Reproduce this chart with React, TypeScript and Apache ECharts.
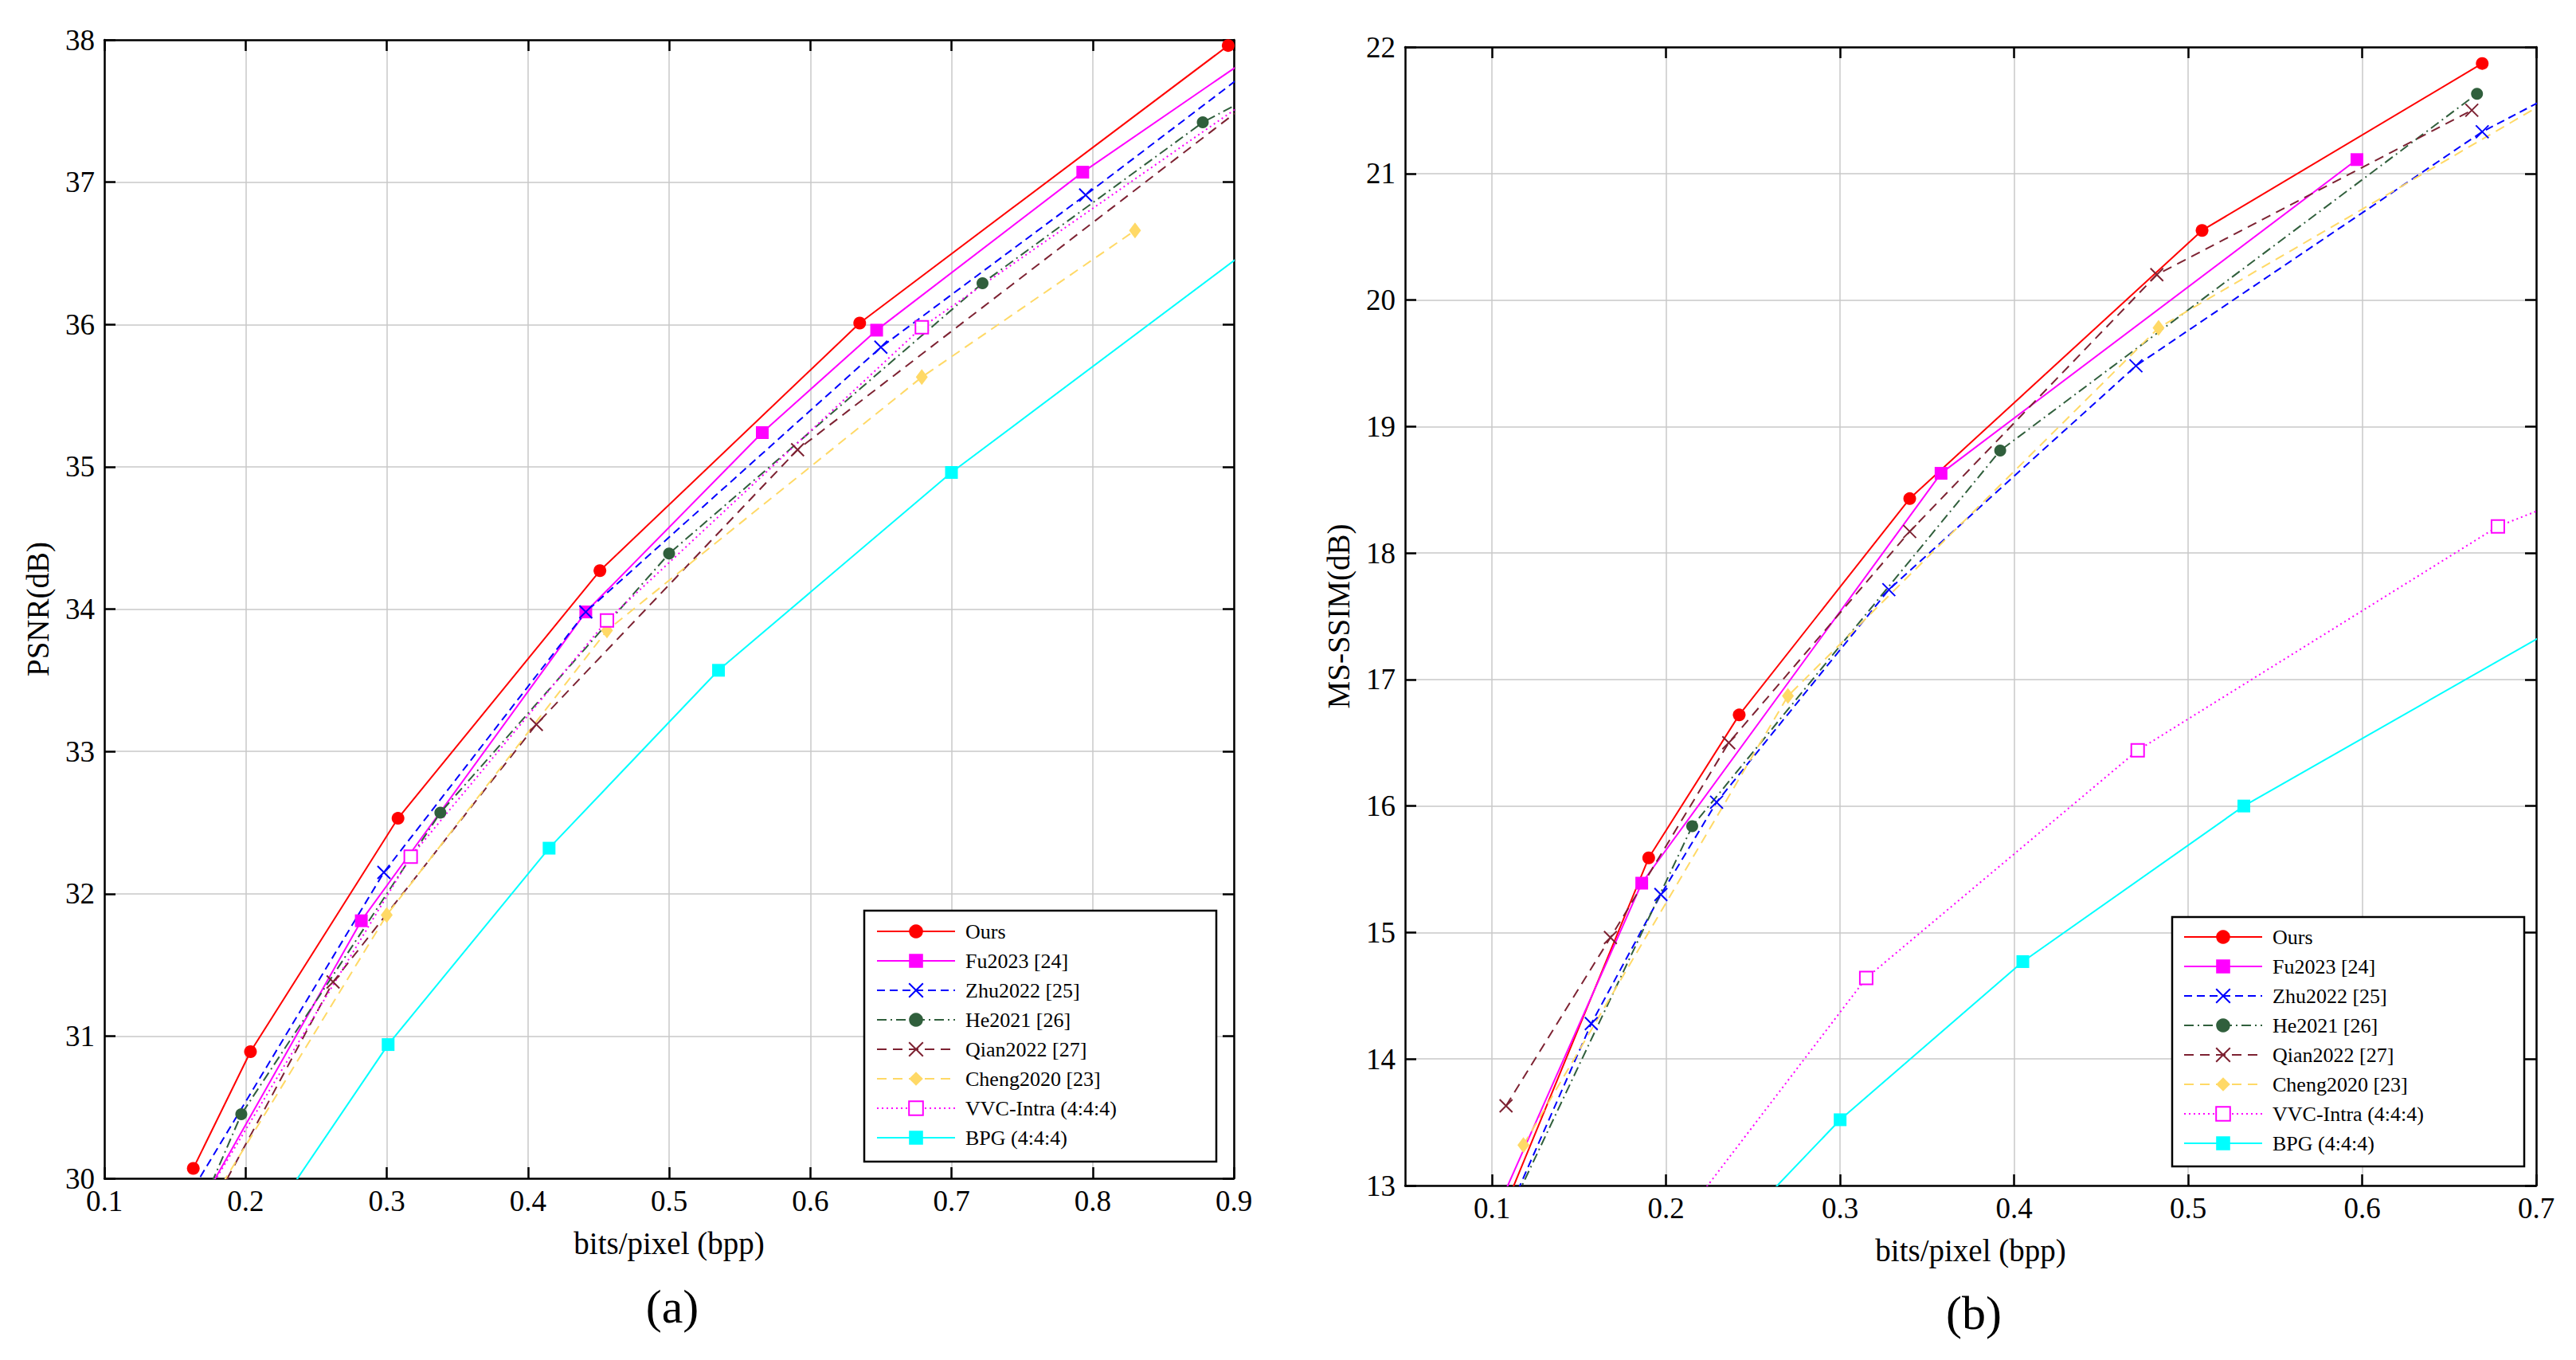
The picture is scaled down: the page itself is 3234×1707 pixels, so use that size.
import React, { useEffect, useRef } from "react";
import * as echarts from "echarts";

const FONT = '"Liberation Serif", "Times New Roman", serif';

const methodNames = [
  "Ours",
  "Fu2023 [24]",
  "Zhu2022 [25]",
  "He2021 [26]",
  "Qian2022 [27]",
  "Cheng2020 [23]",
  "VVC-Intra (4:4:4)",
  "BPG (4:4:4)",
];

// (a) PSNR (dB) vs bits/pixel
const psnrOurs = [[0.163, 30.07], [0.2035, 30.89], [0.308, 32.53], [0.451, 34.27], [0.635, 36.01], [0.896, 37.96]];
const psnrFu = [[0.15, 29.5], [0.282, 31.81], [0.441, 33.98], [0.566, 35.24], [0.647, 35.96], [0.793, 37.07], [0.95, 38.14]];
const psnrZhu = [[0.14, 29.55], [0.298, 32.15], [0.441, 33.98], [0.65, 35.84], [0.795, 36.91], [0.95, 38.08]];
const psnrHe = [[0.16, 29.6], [0.197, 30.45], [0.338, 32.57], [0.5, 34.39], [0.722, 36.29], [0.878, 37.42], [0.95, 37.8]];
const psnrQian = [[0.16, 29.5], [0.262, 31.38], [0.406, 33.19], [0.591, 35.12], [0.95, 37.86]];
const psnrCheng = [[0.16, 29.58], [0.3, 31.85], [0.456, 33.85], [0.679, 35.63], [0.83, 36.66]];
const psnrVVC = [[0.15, 29.52], [0.317, 32.26], [0.456, 33.92], [0.679, 35.98], [0.95, 37.85]];
const psnrBPG = [[0.2, 29.46], [0.301, 30.94], [0.415, 32.32], [0.535, 33.57], [0.7, 34.96], [0.95, 36.82]];

// (b) MS-SSIM (dB) vs bits/pixel
const ssimOurs = [[0.105, 12.75], [0.19, 15.59], [0.242, 16.72], [0.34, 18.43], [0.508, 20.55], [0.669, 21.87]];
const ssimFu = [[0.1, 12.72], [0.186, 15.39], [0.358, 18.63], [0.597, 21.11]];
const ssimZhu = [[0.1, 12.5], [0.157, 14.28], [0.197, 15.3], [0.229, 16.03], [0.328, 17.71], [0.47, 19.48], [0.669, 21.33], [0.75, 21.91]];
const ssimHe = [[0.1, 12.5], [0.215, 15.84], [0.392, 18.81], [0.666, 21.63]];
const ssimQian = [[0.108, 13.63], [0.168, 14.96], [0.236, 16.5], [0.34, 18.17], [0.482, 20.2], [0.663, 21.5]];
const ssimCheng = [[0.118, 13.32], [0.27, 16.87], [0.483, 19.78], [0.75, 21.92]];
const ssimVVC = [[0.2, 12.57], [0.315, 14.64], [0.471, 16.44], [0.678, 18.21], [0.75, 18.6]];
const ssimBPG = [[0.25, 12.8], [0.3, 13.52], [0.405, 14.77], [0.532, 16.0], [0.75, 17.71]];

// axis ranges / ticks
const psnrXRange = [0.1, 0.9];
const psnrYRange = [30, 38];
const ssimXRange = [0.05, 0.7];
const ssimYRange = [13, 22];
const ssimXTicks = [0.1, 0.2, 0.3, 0.4, 0.5, 0.6, 0.7];

const psnrData = [psnrOurs, psnrFu, psnrZhu, psnrHe, psnrQian, psnrCheng, psnrVVC, psnrBPG];
const ssimData = [ssimOurs, ssimFu, ssimZhu, ssimHe, ssimQian, ssimCheng, ssimVVC, ssimBPG];

const XPATH = "path://M0,0L16,16M16,0L0,16";

const styles: any[] = [
  { color: "#ff0000", dash: "solid", symbol: "circle", size: 16 },
  { color: "#ff00ff", dash: "solid", symbol: "rect", size: 16 },
  { color: "#0000ff", dash: [10, 6], symbol: XPATH, size: 16, stroke: true },
  { color: "#305f3c", dash: [12, 5, 2, 5], symbol: "circle", size: 15 },
  { color: "#7d2232", dash: [12, 8], symbol: XPATH, size: 16, stroke: true },
  { color: "#ffd966", dash: [12, 8], symbol: "diamond", size: [15, 20] },
  { color: "#ff00ff", dash: [2, 4], symbol: "rect", size: 16, hollow: true },
  { color: "#00ffff", dash: "solid", symbol: "rect", size: 16 },
];

function buildSeries(data: number[][][], g: number) {
  return data.map((d, i) => {
    const s = styles[i];
    const itemStyle: any = s.hollow
      ? { color: "#ffffff", borderColor: s.color, borderWidth: 2 }
      : s.stroke
      ? { color: s.color, borderColor: s.color, borderWidth: 2 }
      : { color: s.color };
    return {
      type: "line",
      name: methodNames[i],
      xAxisIndex: g * 2,
      yAxisIndex: g * 2,
      data: d,
      clip: true,
      symbol: s.symbol,
      symbolSize: s.size,
      showSymbol: true,
      lineStyle: { color: s.color, width: 2, type: s.dash },
      itemStyle,
      emphasis: { disabled: true },
    };
  });
}

const tickFont = { fontFamily: FONT, fontSize: 37, color: "#000" };
const nameFont = { fontFamily: FONT, fontSize: 39, color: "#000" };
const frameLine = { show: true, onZero: false, lineStyle: { color: "#000", width: 2.5 } };
const tickIn = { show: true, inside: true, length: 14, lineStyle: { color: "#000", width: 2.5 } };
const gridLine = { show: true, lineStyle: { color: "#c8c8c8", width: 1.5 } };

function legendFor(left: number, top: number) {
  return {
    show: true,
    orient: "vertical",
    left,
    top,
    padding: 0,
    itemWidth: 98,
    itemHeight: 22,
    itemGap: 11,
    selectedMode: false,
    z: 20,
    data: methodNames,
    textStyle: { fontFamily: FONT, fontSize: 26, color: "#000", lineHeight: 22, padding: [0, 0, 0, 8] },
  };
}

export default function App() {
  const ref = useRef<HTMLDivElement>(null);
  useEffect(() => {
    if (!ref.current) return;
    const chart = echarts.init(ref.current, null, { renderer: "svg" });
    const option: any = {
      animation: false,
      backgroundColor: "#ffffff",
      textStyle: { fontFamily: FONT },
      grid: [
        { left: 131, top: 50, width: 1418, height: 1429 },
        { left: 1764, top: 59, width: 1420, height: 1429 },
      ],
      xAxis: [
        {
          type: "value", gridIndex: 0, position: "bottom",
          min: psnrXRange[0], max: psnrXRange[1], interval: 0.1,
          name: "bits/pixel (bpp)", nameLocation: "middle", nameGap: 62, nameTextStyle: nameFont,
          axisLine: frameLine, axisTick: tickIn,
          axisLabel: { ...tickFont, margin: 10 },
          splitLine: gridLine,
        },
        {
          type: "value", gridIndex: 0, position: "top",
          min: psnrXRange[0], max: psnrXRange[1], interval: 0.1,
          axisLine: frameLine, axisTick: tickIn, axisLabel: { show: false }, splitLine: { show: false },
        },
        {
          type: "value", gridIndex: 1, position: "bottom",
          min: ssimXRange[0], max: ssimXRange[1],
          name: "bits/pixel (bpp)", nameLocation: "middle", nameGap: 62, nameTextStyle: nameFont,
          axisLine: frameLine,
          axisTick: { ...tickIn, customValues: ssimXTicks },
          axisLabel: { ...tickFont, margin: 10, customValues: ssimXTicks, formatter: (v: number) => v.toFixed(1) },
          splitLine: gridLine,
        },
        {
          type: "value", gridIndex: 1, position: "top",
          min: ssimXRange[0], max: ssimXRange[1],
          axisLine: frameLine,
          axisTick: { ...tickIn, customValues: ssimXTicks },
          axisLabel: { show: false, customValues: ssimXTicks },
          splitLine: { show: false },
        },
      ],
      yAxis: [
        {
          type: "value", gridIndex: 0, position: "left",
          min: psnrYRange[0], max: psnrYRange[1], interval: 1,
          name: "PSNR(dB)", nameLocation: "middle", nameGap: 64, nameTextStyle: nameFont,
          axisLine: frameLine, axisTick: tickIn,
          axisLabel: { ...tickFont, margin: 12 },
          splitLine: gridLine,
        },
        {
          type: "value", gridIndex: 0, position: "right",
          min: psnrYRange[0], max: psnrYRange[1], interval: 1,
          axisLine: frameLine, axisTick: tickIn, axisLabel: { show: false }, splitLine: { show: false },
        },
        {
          type: "value", gridIndex: 1, position: "left",
          min: ssimYRange[0], max: ssimYRange[1], interval: 1,
          name: "MS-SSIM(dB)", nameLocation: "middle", nameGap: 64, nameTextStyle: nameFont,
          axisLine: frameLine, axisTick: tickIn,
          axisLabel: { ...tickFont, margin: 12 },
          splitLine: gridLine,
        },
        {
          type: "value", gridIndex: 1, position: "right",
          min: ssimYRange[0], max: ssimYRange[1], interval: 1,
          axisLine: frameLine, axisTick: tickIn, axisLabel: { show: false }, splitLine: { show: false },
        },
      ],
      legend: [legendFor(1100, 1156), legendFor(2741, 1163)],
      graphic: [
        { type: "rect", z: 10, shape: { x: 1085, y: 1143, width: 442, height: 315 }, style: { fill: "#ffffff", stroke: "#000", lineWidth: 2.5 } },
        { type: "rect", z: 10, shape: { x: 2727, y: 1151, width: 442, height: 313 }, style: { fill: "#ffffff", stroke: "#000", lineWidth: 2.5 } },
        { type: "text", z: 10, x: 844, y: 1640, style: { text: "(a)", fontFamily: FONT, fontSize: 60, fill: "#000", align: "center", verticalAlign: "middle" } },
        { type: "text", z: 10, x: 2478, y: 1648, style: { text: "(b)", fontFamily: FONT, fontSize: 60, fill: "#000", align: "center", verticalAlign: "middle" } },
      ],
      series: [...buildSeries(psnrData, 0), ...buildSeries(ssimData, 1)],
    };
    chart.setOption(option);
    return () => chart.dispose();
  }, []);
  return (
    <div
      ref={ref}
      style={{ position: "absolute", left: 0, top: 0, width: 3234, height: 1707, background: "#fff" }}
    />
  );
}
